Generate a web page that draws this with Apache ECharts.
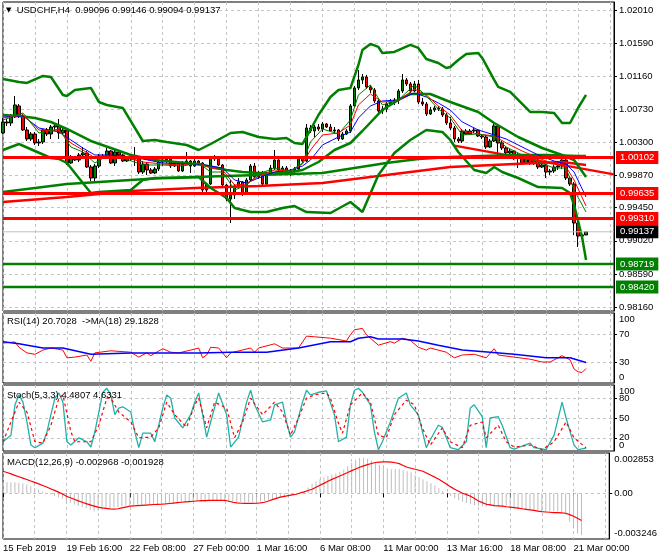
<!DOCTYPE html>
<html><head><meta charset="utf-8">
<script src="https://cdn.jsdelivr.net/npm/echarts@6/dist/echarts.min.js"></script>
<style>html,body{margin:0;padding:0;background:#fff}#c{width:660px;height:560px}</style>
</head><body><div id="c"></div><script>
// ---------- DATA ----------
const symbol = 'USDCHF,H4';
const xTickLabels = ['15 Feb 2019','19 Feb 16:00','22 Feb 08:00','27 Feb 00:00','1 Mar 16:00','6 Mar 08:00','11 Mar 00:00','13 Mar 16:00','18 Mar 08:00','21 Mar 00:00'];
const mainTicks = [0.98160,0.98590,0.99020,0.99450,0.99870,1.00300,1.00730,1.01160,1.01590,1.02010];
const rsiTicks = [0,30,70,100];
const stochTicks = [0,20,50,80,100];
const macdTicks = [-0.003246,0,0.002853];
const levelsRed = [1.00102,0.99635,0.99310];
const levelsGreen = [0.98719,0.98420];
const lastPrice = 0.99137;

const open = [1.00421,1.00564,1.00551,1.00629,1.00772,1.00642,1.00460,1.00343,1.00408,1.00291,1.00304,1.00460,1.00408,1.00499,1.00512,1.00421,1.00460,1.00031,1.00109,1.00070,1.00135,1.00161,0.99979,0.99836,0.99992,1.00122,1.00109,1.00187,1.00031,1.00174,1.00135,1.00057,1.00096,1.00083,1.00109,0.99914,1.00018,0.99940,0.99901,0.99953,1.00044,1.00070,1.00083,0.99992,1.00031,0.99927,1.00031,1.00057,0.99992,1.00057,1.00031,0.99680,0.99758,1.00096,1.00083,1.00005,0.99745,0.99563,0.99615,0.99732,0.99784,0.99641,0.99810,0.99992,0.99849,0.99901,0.99758,0.99888,0.99966,1.00070,0.99940,0.99966,0.99901,0.99927,0.99953,1.00096,1.00057,1.00486,1.00447,1.00499,1.00473,1.00538,1.00499,1.00447,1.00460,1.00343,1.00408,1.00447,1.00772,1.01006,1.01110,1.01149,1.01019,1.00980,1.00837,1.00707,1.00733,1.00798,1.00824,1.00850,1.00967,1.01110,1.01058,1.00967,1.01058,1.00824,1.00798,1.00668,1.00720,1.00746,1.00733,1.00655,1.00551,1.00486,1.00343,1.00317,1.00447,1.00408,1.00447,1.00460,1.00382,1.00369,1.00239,1.00317,1.00512,1.00291,1.00226,1.00161,1.00187,1.00096,1.00135,1.00031,1.00096,1.00031,1.00070,0.99979,1.00005,0.99914,0.99927,0.99979,0.99992,1.00070,0.99836,0.99758,0.99251,0.99082,0.99096];
const close = [1.00564,1.00551,1.00629,1.00785,1.00642,1.00460,1.00343,1.00408,1.00291,1.00304,1.00460,1.00408,1.00499,1.00512,1.00421,1.00460,1.00031,1.00109,1.00070,1.00135,1.00161,0.99979,0.99836,0.99992,1.00122,1.00109,1.00187,1.00031,1.00174,1.00135,1.00057,1.00096,1.00083,1.00109,0.99914,1.00018,0.99940,0.99901,0.99953,1.00044,1.00070,1.00083,0.99992,1.00031,0.99927,1.00031,1.00057,0.99992,1.00057,1.00031,0.99680,0.99758,1.00096,1.00083,1.00005,0.99745,0.99563,0.99615,0.99732,0.99784,0.99641,0.99810,0.99992,0.99849,0.99901,0.99758,0.99888,0.99966,1.00070,0.99940,0.99966,0.99901,0.99927,0.99953,1.00096,1.00057,1.00486,1.00447,1.00499,1.00473,1.00538,1.00499,1.00447,1.00460,1.00343,1.00408,1.00447,1.00772,1.01006,1.01110,1.01149,1.01019,1.00980,1.00837,1.00707,1.00733,1.00798,1.00824,1.00850,1.00967,1.01110,1.01058,1.00967,1.01058,1.00824,1.00798,1.00668,1.00720,1.00746,1.00733,1.00655,1.00551,1.00486,1.00343,1.00317,1.00447,1.00408,1.00447,1.00460,1.00382,1.00369,1.00239,1.00317,1.00512,1.00291,1.00226,1.00161,1.00187,1.00096,1.00135,1.00031,1.00096,1.00031,1.00070,0.99979,1.00005,0.99914,0.99927,0.99979,0.99992,1.00070,0.99836,0.99758,0.99251,0.99082,0.99096,0.99137];
const low = [1.00408,1.00512,1.00512,1.00616,1.00616,1.00447,1.00317,1.00317,1.00265,1.00252,1.00278,1.00382,1.00343,1.00447,1.00343,1.00408,1.00005,1.00018,1.00057,1.00044,1.00096,0.99966,0.99797,0.99797,0.99966,1.00083,1.00096,1.00018,0.99992,1.00109,1.00044,1.00044,1.00057,0.99992,0.99888,0.99888,0.99875,0.99888,0.99888,0.99927,0.99992,1.00031,0.99966,0.99979,0.99914,0.99914,1.00005,0.99901,0.99979,1.00018,0.99654,0.99615,0.99745,1.00057,0.99992,0.99706,0.99537,0.99251,0.99563,0.99693,0.99602,0.99628,0.99797,0.99836,0.99823,0.99732,0.99745,0.99875,0.99940,0.99927,0.99901,0.99888,0.99862,0.99901,0.99940,1.00031,1.00044,1.00421,1.00369,1.00447,1.00434,1.00486,1.00434,1.00421,1.00317,1.00330,1.00395,1.00421,1.00759,1.00980,1.01058,1.00993,1.00941,1.00811,1.00681,1.00668,1.00694,1.00772,1.00785,1.00798,1.00941,1.01032,1.00941,1.00954,1.00798,1.00772,1.00642,1.00655,1.00694,1.00707,1.00629,1.00525,1.00460,1.00304,1.00291,1.00291,1.00395,1.00395,1.00421,1.00369,1.00343,1.00213,1.00226,1.00304,1.00096,1.00200,1.00135,1.00135,1.00070,0.99966,1.00005,1.00018,1.00005,1.00005,0.99953,0.99966,0.99836,0.99875,0.99901,0.99940,0.99953,0.99810,0.99732,0.99095,0.98939,0.99056,0.99094];
const high = [1.00616,1.00603,1.00668,1.00902,1.00798,1.00668,1.00499,1.00434,1.00434,1.00343,1.00473,1.00486,1.00525,1.00538,1.00603,1.00499,1.00473,1.00135,1.00122,1.00161,1.00239,1.00187,1.00005,1.00018,1.00148,1.00148,1.00226,1.00200,1.00200,1.00187,1.00148,1.00122,1.00122,1.00239,1.00122,1.00057,1.00044,0.99966,0.99979,1.00070,1.00096,1.00109,1.00096,1.00057,1.00044,1.00057,1.00174,1.00070,1.00083,1.00070,1.00044,0.99771,1.00109,1.00135,1.00109,1.00018,0.99758,0.99810,0.99758,0.99836,0.99797,0.99836,1.00018,1.00031,0.99927,0.99927,0.99914,1.00005,1.00200,1.00096,0.99992,0.99992,0.99953,0.99979,1.00122,1.00122,1.00538,1.00525,1.00525,1.00538,1.00564,1.00551,1.00538,1.00499,1.00473,1.00434,1.00473,1.00798,1.01032,1.01240,1.01188,1.01175,1.01045,1.01006,1.00863,1.00772,1.00824,1.00863,1.00876,1.00993,1.01188,1.01136,1.01084,1.01097,1.01110,1.00876,1.00824,1.00759,1.00772,1.00772,1.00759,1.00681,1.00629,1.00512,1.00369,1.00473,1.00473,1.00473,1.00486,1.00473,1.00408,1.00395,1.00343,1.00538,1.00525,1.00317,1.00252,1.00213,1.00200,1.00161,1.00148,1.00122,1.00122,1.00096,1.00083,1.00031,1.00018,0.99953,1.00005,1.00018,1.00109,1.00096,0.99862,0.99784,0.99264,0.99134,0.99146];

const bbUpper = [[0,1.01123],[4,1.01084],[6,1.01071],[10,1.01162],[12,1.01149],[15,1.00915],[16,1.00902],[18,1.00980],[22,1.01006],[24,1.00824],[26,1.00785],[30,1.00746],[35,1.00317],[38,1.00330],[41,1.00304],[46,1.00265],[49,1.00200],[52,1.00278],[57,1.00421],[60,1.00434],[64,1.00369],[68,1.00343],[71,1.00356],[73,1.00291],[75,1.00278],[76,1.00369],[79,1.00655],[82,1.00889],[84,1.00980],[87,1.01006],[89,1.01305],[90,1.01500],[92,1.01578],[94,1.01539],[95,1.01461],[98,1.01474],[102,1.01565],[104,1.01526],[106,1.01383],[109,1.01331],[111,1.01266],[112,1.01279],[114,1.01370],[116,1.01448],[119,1.01461],[120,1.01396],[123,1.01110],[124,1.01019],[127,1.00954],[129,1.00850],[132,1.00694],[135,1.00694],[138,1.00681],[140,1.00551],[142,1.00551],[144,1.00746],[146,1.00915]];
const bbMiddle = [[0,1.00655],[4,1.00642],[8,1.00616],[12,1.00564],[16,1.00473],[19,1.00395],[22,1.00317],[27,1.00226],[32,1.00135],[38,1.00070],[46,1.00031],[50,1.00005],[56,0.99940],[60,0.99914],[64,0.99901],[68,0.99901],[72,0.99914],[75,0.99940],[79,1.00044],[83,1.00200],[87,1.00291],[90,1.00447],[95,1.00720],[99,1.00850],[102,1.00928],[107,1.00928],[112,1.00824],[119,1.00694],[123,1.00551],[129,1.00369],[135,1.00226],[140,1.00135],[143,1.00070],[146,0.99849]];
const bbLower = [[0,1.00200],[4,1.00278],[8,1.00187],[12,1.00096],[14,1.00083],[16,1.00031],[19,0.99836],[22,0.99641],[24,0.99654],[32,0.99680],[35,0.99810],[38,0.99836],[43,0.99836],[49,0.99849],[52,0.99706],[56,0.99576],[58,0.99446],[62,0.99394],[66,0.99394],[70,0.99446],[73,0.99472],[76,0.99394],[82,0.99381],[87,0.99524],[90,0.99394],[94,0.99875],[98,1.00161],[102,1.00330],[106,1.00460],[110,1.00434],[112,1.00330],[114,1.00174],[118,0.99940],[121,0.99901],[123,0.99979],[125,0.99914],[129,0.99836],[134,0.99719],[140,0.99706],[142,0.99641],[143,0.99485],[145,0.99069],[146,0.98770]];
const maSlowGreen = [[0,0.99654],[8,0.99706],[16,0.99758],[24,0.99784],[32,0.99810],[40,0.99836],[48,0.99849],[56,0.99862],[64,0.99875],[72,0.99888],[80,0.99901],[88,0.99966],[96,1.00031],[104,1.00083],[112,1.00109],[120,1.00122],[128,1.00135],[136,1.00135],[144,1.00122],[146,1.00122]];
const maSlowRed = [[0,0.99524],[16,0.99589],[32,0.99667],[48,0.99706],[64,0.99732],[80,0.99771],[96,0.99875],[112,0.99979],[128,1.00018],[140,1.00044],[146,1.00005]];
const trendLine = [[113,1.00257],[153,0.99883]];
const emaBlue = [[0,1.00629],[5,1.00642],[9,1.00486],[14,1.00434],[17,1.00330],[20,1.00226],[23,1.00135],[26,1.00135],[30,1.00122],[35,1.00083],[40,1.00031],[45,1.00018],[49,1.00018],[52,0.99992],[55,0.99966],[58,0.99810],[61,0.99771],[64,0.99836],[68,0.99914],[72,0.99940],[75,0.99992],[77,1.00070],[80,1.00265],[84,1.00369],[87,1.00434],[89,1.00616],[92,1.00772],[95,1.00837],[99,1.00850],[103,1.00941],[106,1.00889],[109,1.00811],[112,1.00720],[115,1.00564],[119,1.00460],[123,1.00395],[126,1.00343],[130,1.00239],[134,1.00135],[138,1.00057],[141,1.00018],[143,0.99914],[146,0.99589]];
const emaRed = [[0,1.00616],[5,1.00655],[9,1.00460],[14,1.00447],[17,1.00291],[20,1.00200],[23,1.00096],[26,1.00122],[30,1.00109],[35,1.00044],[40,1.00018],[45,1.00005],[49,1.00031],[52,0.99966],[55,0.99940],[58,0.99745],[61,0.99758],[64,0.99862],[68,0.99940],[72,0.99927],[75,1.00018],[77,1.00200],[80,1.00395],[84,1.00421],[87,1.00525],[89,1.00785],[92,1.00928],[95,1.00824],[99,1.00837],[103,1.00993],[106,1.00915],[109,1.00772],[112,1.00655],[115,1.00447],[119,1.00408],[123,1.00382],[126,1.00291],[130,1.00187],[134,1.00096],[138,1.00018],[141,0.99979],[143,0.99810],[146,0.99472]];
const emaGreen = [[0,1.00590],[5,1.00681],[9,1.00421],[14,1.00473],[17,1.00239],[20,1.00174],[23,1.00031],[26,1.00122],[30,1.00096],[35,1.00005],[40,1.00005],[45,0.99992],[49,1.00031],[52,0.99914],[55,0.99914],[58,0.99680],[61,0.99745],[64,0.99888],[68,0.99966],[72,0.99927],[75,1.00031],[77,1.00304],[80,1.00473],[84,1.00408],[87,1.00590],[89,1.00915],[92,1.01045],[95,1.00785],[99,1.00850],[103,1.01045],[106,1.00902],[109,1.00733],[112,1.00616],[115,1.00395],[119,1.00408],[123,1.00369],[126,1.00239],[130,1.00135],[134,1.00044],[138,0.99966],[141,0.99966],[143,0.99680],[146,0.99394]];

const rsi = [[0,57],[3,58.6],[4,51],[6,43],[8,41],[10,47],[12,50],[15,47],[16,36],[18,37],[21,40],[22,31],[23,43],[27,46],[32,44],[34,37],[36,43],[37,39],[40,49],[42,44],[44,43],[47,47],[49,50],[50,36],[51,40],[52,51],[54,50],[56,36],[57,43],[62,50],[63,44],[64,50],[68,56],[70,50],[74,50],[76,67],[78,66],[82,64],[86,60],[87,69],[88,76],[90,78],[91,69],[94,54],[97,59],[98,57],[100,64],[102,61],[104,51],[106,47],[107,50],[111,44],[113,36],[115,40],[118,41],[121,36],[123,49],[124,40],[128,37],[132,34],[135,30],[137,30],[139,36],[140,39],[142,33],[143,20],[144,16],[145,15],[146,20.7028]];
const rsiMa = [[0,59],[4,56],[10,50],[15,50],[22,41],[32,43],[49,43],[57,44],[66,44],[74,50],[82,59],[87,59],[89,64],[92,66],[94,63],[100,63],[104,60],[109,54],[115,47],[122,44],[128,41],[136,36],[142,36],[146,29.1828]];
const stochMain = [[0,14],[2,24],[3,70],[4,85],[5,74],[6,44],[7,9],[8,5],[10,12],[11,29],[12,55],[13,80],[14,88],[15,74],[16,14],[17,9],[19,20],[21,14],[22,6],[23,29],[24,59],[25,89],[26,95],[27,85],[28,55],[29,65],[30,67],[32,59],[33,29],[34,5],[35,27],[37,27],[38,14],[40,65],[41,85],[42,80],[43,50],[45,35],[47,55],[48,74],[49,88],[50,55],[51,21],[52,44],[54,88],[56,55],[57,6],[59,21],[61,74],[62,92],[63,70],[65,44],[67,47],[68,70],[70,74],[71,44],[72,21],[73,29],[75,74],[76,92],[77,85],[79,89],[81,91],[82,73],[83,55],[84,14],[86,21],[87,70],[88,92],[89,95],[90,89],[92,70],[93,29],[94,2],[95,14],[97,44],[99,80],[101,88],[102,70],[104,55],[106,5],[107,17],[109,39],[110,36],[112,5],[114,2],[116,14],[117,65],[118,70],[120,52],[121,5],[122,50],[124,52],[125,39],[127,5],[128,3],[132,12],[133,5],[136,2],[138,24],[140,74],[141,50],[143,9],[144,2],[146,4.4807]];
const stochSignal = [[0,14],[4,74],[6,59],[8,14],[10,12],[12,39],[14,80],[15,85],[17,29],[18,14],[22,14],[24,39],[26,80],[27,80],[29,59],[32,44],[34,20],[37,21],[39,35],[41,74],[43,55],[46,36],[48,70],[49,80],[51,35],[53,74],[56,65],[58,20],[60,44],[62,80],[65,55],[68,74],[70,59],[72,24],[74,50],[76,80],[78,85],[81,88],[82,80],[84,42],[85,27],[87,70],[90,88],[92,74],[94,24],[96,20],[98,55],[101,77],[103,70],[105,35],[107,9],[110,35],[112,14],[115,5],[117,39],[120,44],[121,20],[124,39],[126,14],[128,6],[132,9],[135,2],[138,14],[141,44],[143,20],[146,4.6331]];
const macdMain = [0.00080,0.00079,0.00078,0.00077,0.00075,0.00070,0.00062,0.00050,0.00038,0.00025,0.00012,0.00002,-0.00008,-0.00018,-0.00028,-0.00038,-0.00055,-0.00068,-0.00080,-0.00090,-0.00098,-0.00105,-0.00118,-0.00128,-0.00125,-0.00118,-0.00112,-0.00105,-0.00100,-0.00097,-0.00092,-0.00088,-0.00086,-0.00084,-0.00084,-0.00082,-0.00080,-0.00079,-0.00078,-0.00076,-0.00072,-0.00070,-0.00069,-0.00068,-0.00066,-0.00064,-0.00062,-0.00060,-0.00058,-0.00057,-0.00062,-0.00063,-0.00056,-0.00050,-0.00048,-0.00052,-0.00060,-0.00066,-0.00064,-0.00062,-0.00063,-0.00064,-0.00062,-0.00060,-0.00059,-0.00058,-0.00057,-0.00050,-0.00042,-0.00036,-0.00030,-0.00026,-0.00020,-0.00014,-0.00008,-0.00002,0.00015,0.00040,0.00065,0.00085,0.00100,0.00112,0.00122,0.00132,0.00142,0.00152,0.00168,0.00190,0.00215,0.00238,0.00250,0.00252,0.00245,0.00232,0.00215,0.00200,0.00188,0.00175,0.00170,0.00170,0.00172,0.00162,0.00155,0.00148,0.00130,0.00115,0.00100,0.00085,0.00070,0.00055,0.00035,0.00015,-0.00005,-0.00020,-0.00035,-0.00050,-0.00060,-0.00070,-0.00078,-0.00085,-0.00090,-0.00092,-0.00092,-0.00090,-0.00092,-0.00095,-0.00098,-0.00100,-0.00105,-0.00108,-0.00110,-0.00112,-0.00115,-0.00118,-0.00120,-0.00125,-0.00127,-0.00128,-0.00128,-0.00128,-0.00130,-0.00135,-0.00150,-0.00200,-0.00250,-0.00285,-0.002968];
const macdSignal = [0.00156,0.00147,0.00137,0.00127,0.00117,0.00107,0.00097,0.00087,0.00077,0.00066,0.00055,0.00044,0.00032,0.00020,0.00008,-0.00006,-0.00021,-0.00032,-0.00043,-0.00054,-0.00064,-0.00074,-0.00083,-0.00091,-0.00099,-0.00104,-0.00108,-0.00111,-0.00113,-0.00110,-0.00104,-0.00098,-0.00092,-0.00090,-0.00088,-0.00086,-0.00084,-0.00082,-0.00080,-0.00079,-0.00078,-0.00076,-0.00073,-0.00070,-0.00067,-0.00064,-0.00061,-0.00059,-0.00057,-0.00055,-0.00053,-0.00052,-0.00051,-0.00050,-0.00050,-0.00050,-0.00050,-0.00057,-0.00064,-0.00068,-0.00071,-0.00072,-0.00072,-0.00072,-0.00071,-0.00068,-0.00064,-0.00055,-0.00045,-0.00036,-0.00028,-0.00022,-0.00017,-0.00012,-0.00007,0.00002,0.00010,0.00019,0.00028,0.00042,0.00056,0.00070,0.00085,0.00098,0.00110,0.00122,0.00135,0.00147,0.00160,0.00172,0.00184,0.00194,0.00203,0.00211,0.00218,0.00221,0.00222,0.00222,0.00220,0.00216,0.00210,0.00197,0.00184,0.00177,0.00170,0.00163,0.00156,0.00142,0.00128,0.00114,0.00099,0.00081,0.00063,0.00045,0.00028,0.00014,0.00000,-0.00010,-0.00021,-0.00038,-0.00055,-0.00067,-0.00078,-0.00083,-0.00088,-0.00090,-0.00092,-0.00096,-0.00099,-0.00102,-0.00106,-0.00110,-0.00114,-0.00118,-0.00122,-0.00127,-0.00131,-0.00133,-0.00135,-0.00137,-0.00138,-0.00139,-0.00142,-0.00152,-0.00163,-0.00178,-0.001928];

// ---------- CHART ----------
const FONT = 'Liberation Sans';
const FS = 9.5;
const SLOTS = 154;
const categories = [];
for (let i = 0; i < SLOTS; i++) categories.push(i % 16 === 0 && xTickLabels[i / 16] ? xTickLabels[i / 16] : '');
const candles = open.map((o, i) => [o, close[i], low[i], high[i]]);
const last = open.length - 1;
const f5 = v => v.toFixed(5);

const gridLine = {color: '#c4c4c4', type: [3, 3], width: 1};
const grids = [
  {top: 2, height: 309}, {top: 313, height: 70}, {top: 385, height: 66}, {top: 453, height: 86}
].map(g => Object.assign({left: 3, right: 46, show: true, borderColor: '#000', borderWidth: 1, backgroundColor: '#fff'}, g));

const xAxes = [0, 1, 2, 3].map(gi => ({
  type: 'category', gridIndex: gi, data: categories, boundaryGap: false,
  axisLine: {show: false},
  axisTick: gi === 3 ? {show: true, interval: 15, length: 4, lineStyle: {color: '#000'}} : {show: false},
  axisLabel: gi === 3 ? {show: true, interval: 15, align: 'left', margin: 4, color: '#000', fontFamily: FONT, fontSize: FS} : {show: false},
  splitLine: {show: true, interval: 7, lineStyle: gridLine}
}));

const labelBase = {margin: 5, color: '#000', fontFamily: FONT, fontSize: FS, hideOverlap: false};
function subAxis(gi, min, max, ticks, fmt) {
  const inner = ticks.filter(v => v !== min && v !== max);
  return {
    type: 'value', gridIndex: gi, position: 'right', min: min, max: max,
    axisLine: {show: true, lineStyle: {color: '#000'}},
    axisTick: {show: true, length: 3, lineStyle: {color: '#000'}, customValues: inner},
    axisLabel: Object.assign({customValues: inner, formatter: v => fmt(v)}, labelBase),
    splitLine: {show: true, lineStyle: gridLine}
  };
}
function edgeAxis(gi, min, max, fmt) {
  return {
    type: 'value', gridIndex: gi, position: 'right', min: min, max: max,
    axisLine: {show: false}, axisTick: {show: false}, splitLine: {show: false},
    axisLabel: Object.assign({customValues: [min, max], showMinLabel: true, showMaxLabel: true,
      rich: {
        t: {padding: [13, 0, 0, 0], fontFamily: FONT, fontSize: FS, color: '#000'},
        b: {padding: [0, 0, 12, 0], fontFamily: FONT, fontSize: FS, color: '#000'}
      },
      formatter: v => v === max ? '{t|' + fmt(v) + '}' : '{b|' + fmt(v) + '}'}, labelBase)
  };
}
const mainMin = 0.98108, mainMax = 1.02123;
const fmtInt = v => String(v);
const fmtMacd = v => v === 0 ? '0.00' : v.toFixed(6);
const yAxes = [
  {type: 'value', gridIndex: 0, position: 'right', min: mainMin, max: mainMax,
   axisLine: {show: true, lineStyle: {color: '#000'}},
   axisTick: {show: true, length: 3, lineStyle: {color: '#000'}, customValues: mainTicks},
   axisLabel: Object.assign({customValues: mainTicks, formatter: f5}, labelBase),
   splitLine: {show: true, lineStyle: gridLine}},
  subAxis(1, 0, 100, rsiTicks, fmtInt),
  subAxis(2, 0, 100, stochTicks, fmtInt),
  subAxis(3, macdTicks[0], macdTicks[2], macdTicks, fmtMacd),
  edgeAxis(1, 0, 100, fmtInt),
  edgeAxis(2, 0, 100, fmtInt),
  edgeAxis(3, macdTicks[0], macdTicks[2], fmtMacd)
];

function line(data, gi, color, width, extra) {
  return Object.assign({type: 'line', xAxisIndex: gi, yAxisIndex: gi, data: data, showSymbol: false, symbol: 'none',
    silent: true, z: 3, lineStyle: {color: color, width: width}}, extra || {});
}
// horizontal price level with its price tag on the right scale
function levelSeries(v, color, width, bg) {
  return {type: 'line', xAxisIndex: 0, yAxisIndex: 0, data: [[0, v], [SLOTS - 1, v]], showSymbol: false, symbol: 'none',
    silent: true, z: 4, lineStyle: {color: color, width: width},
    endLabel: {show: true, distance: 2, formatter: () => f5(v), color: '#fff', backgroundColor: bg,
      padding: [2, 4, 1, 4], fontFamily: FONT, fontSize: FS}};
}

const series = [
  {type: 'candlestick', xAxisIndex: 0, yAxisIndex: 0, data: candles, barWidth: 3, silent: true, z: 2,
   itemStyle: {color: '#008000', color0: '#ff0000', borderColor: '#000', borderColor0: '#000', borderWidth: 1}},
  levelSeries(lastPrice, '#c0c0c0', 1, '#000'),
  line(maSlowRed, 0, '#ff0000', 2.5),
  line(trendLine, 0, '#ff0000', 2.5),
  line(maSlowGreen, 0, '#008000', 2.5),
  line(bbUpper, 0, '#008000', 2.5),
  line(bbMiddle, 0, '#008000', 2.5),
  line(bbLower, 0, '#008000', 2.5),
  line(emaBlue, 0, '#0000ff', 1),
  line(emaRed, 0, '#ff0000', 1),
  line(emaGreen, 0, '#008000', 1)
].concat(levelsRed.map(v => levelSeries(v, '#ff0000', 3, '#ff0000')))
 .concat(levelsGreen.map(v => levelSeries(v, '#008000', 2.5, '#008000')))
 .concat([
  line(rsi, 1, '#ff0000', 1),
  line(rsiMa, 1, '#0000ff', 1.5),
  line(stochMain, 2, '#20b2aa', 1.3),
  line(stochSignal, 2, '#ff0000', 1.2, {lineStyle: {color: '#ff0000', width: 1.2, type: [3, 3]}}),
  {type: 'bar', xAxisIndex: 3, yAxisIndex: 3, data: macdMain, barWidth: 1, silent: true, itemStyle: {color: '#bdbdbd'}},
  line(macdSignal.map((v, i) => [i, v]), 3, '#ff0000', 1.2)
]);

const tStyle = {fontFamily: FONT, fontSize: FS, fontWeight: 'normal', color: '#000'};
const title = [
  {left: 6, top: 5, padding: 0,
   text: '{a|▼}  ' + symbol + '  ' + [open[last], high[last], low[last], close[last]].map(f5).join(' '),
   textStyle: Object.assign({rich: {a: {fontFamily: 'DejaVu Sans', fontSize: 7, color: '#000'}}}, tStyle)},
  {left: 7, top: 316, padding: 0, text: 'RSI(14) ' + rsi[rsi.length - 1][1].toFixed(4) + '  ->MA(18) ' + rsiMa[rsiMa.length - 1][1].toFixed(4), textStyle: tStyle},
  {left: 7, top: 390, padding: 0, text: 'Stoch(5,3,3) ' + stochMain[stochMain.length - 1][1].toFixed(4) + ' ' + stochSignal[stochSignal.length - 1][1].toFixed(4), textStyle: tStyle},
  {left: 7, top: 457, padding: 0, text: 'MACD(12,26,9) ' + macdMain[last].toFixed(6) + ' ' + macdSignal[last].toFixed(6), textStyle: tStyle}
];

const chart = echarts.init(document.getElementById('c'), null, {renderer: 'canvas'});
chart.setOption({
  animation: false, backgroundColor: '#fff', textStyle: {fontFamily: FONT},
  title: title, grid: grids, xAxis: xAxes, yAxis: yAxes, series: series
});
</script></body></html>
